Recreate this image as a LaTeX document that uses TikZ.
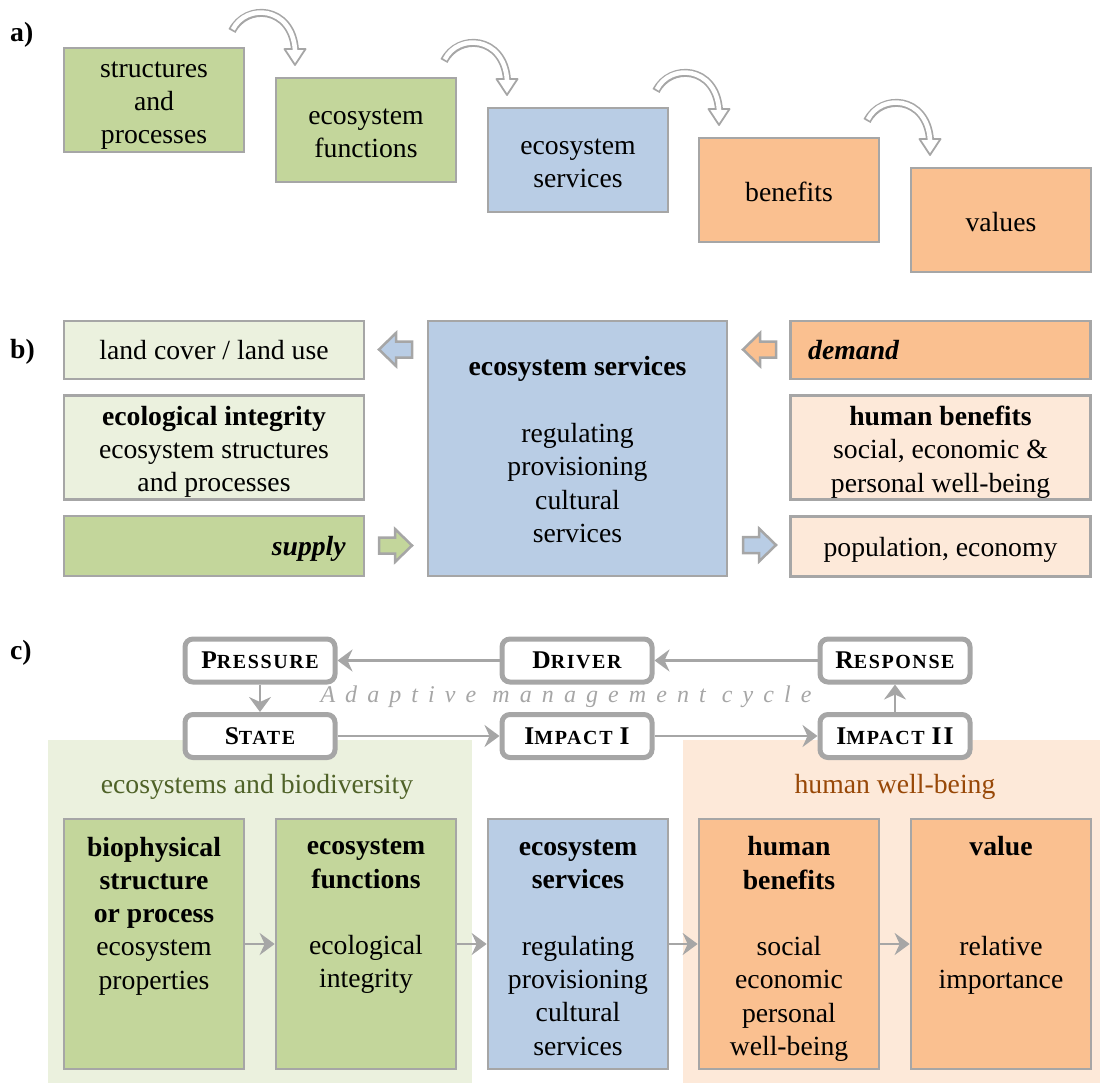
\documentclass[tikz,border=0pt]{standalone}
\usepackage{fontspec}
\setmainfont{Liberation Serif}
\newfontfamily\cyclefont[LetterSpace=42]{Liberation Serif}
\newfontfamily\stagefont[LetterSpace=8]{Liberation Serif}
\usetikzlibrary{arrows.meta}

\definecolor{grn}{HTML}{C3D69B}
\definecolor{grnlt}{HTML}{EBF1DE}
\definecolor{blu}{HTML}{B9CDE5}
\definecolor{org}{HTML}{FAC090}
\definecolor{orglt}{HTML}{FDE9D9}
\definecolor{edge}{HTML}{A6A6A6}
\definecolor{olivetext}{HTML}{4F6228}
\definecolor{browntext}{HTML}{984807}

% fake small capitals for the stage names
\newcommand\capbig[1]{{\fontsize{25.5}{28}\selectfont #1}}
\newcommand\capsmall[1]{{\fontsize{20}{28}\selectfont #1}}

% hollow curved arrow between two boxes of panel a
\newcommand\hollowcurve[2]{%
  \begin{scope}[shift={(#1,#2)}]
    \draw[edge, line width=8pt] (232,31) .. controls (246,3) and (292,6) .. (295,50);
    \filldraw[fill=white, draw=edge, line width=1.8pt, line join=round]
      (284.5,49) -- (305.5,49) -- (295,65) -- cycle;
    \draw[white, line width=4.6pt, shorten <=1.8pt]
      (232,31) .. controls (246,3) and (292,6) .. (295,50) -- (295,51.5);
  \end{scope}}

\tikzset{
  txt/.style={font=\fontsize{27.7}{33.3}\selectfont, align=center, inner sep=0pt,
    execute at begin node=\strut, execute at end node=\strut},
  box/.style={draw=edge, line width=2.7pt, inner sep=0pt},
  abox/.style={box, minimum width=180pt, minimum height=104pt},
  bbox/.style={box, minimum width=300pt},
  cbox/.style={box, minimum width=180pt, minimum height=250pt},
  stage/.style={draw=edge, line width=5pt, rounded corners=8pt, fill=white,
    minimum width=150pt, minimum height=43pt, inner sep=0pt, font=\stagefont\bfseries},
  conn/.style={draw=edge, line width=2.8pt, -{Stealth[length=15pt,width=22pt,inset=5pt]}},
  blockarrow/.style={draw=edge, line width=2.5pt, line join=miter},
  panel/.style={font=\bfseries\fontsize{27.7}{33.3}\selectfont, inner sep=0pt, anchor=west},
}

\begin{document}
\begin{tikzpicture}[x=1pt,y=-1pt]
\path[use as bounding box] (0,0) rectangle (1100,1084);

% panel labels
\node[panel] (labA) at (10,35) {a)};
\node[panel] (labB) at (10,352) {b)};
\node[panel] (labC) at (10,653) {c)};

% ---------- panel a: the cascade ----------
\node[abox, fill=grn] (sp) at (154,100) {};
\node[abox, fill=grn] (ef) at (366,130) {};
\node[abox, fill=blu] (es) at (578,160) {};
\node[abox, fill=org] (bn) at (789,190) {};
\node[abox, fill=org] (vl) at (1001,220) {};
\node[txt] (spt) at (154,107.5) {structures\\and\\processes};
\node[txt] (eft) at (366,138) {ecosystem\\functions};
\node[txt] (est) at (578,168) {ecosystem\\services};
\node[txt] (bnt) at (789,195) {benefits};
\node[txt] (vlt) at (1001,225) {values};

\hollowcurve{0}{0}
\hollowcurve{212}{30}
\hollowcurve{424}{60}
\hollowcurve{635}{90}

% ---------- panel b: supply and demand ----------
\node[bbox, fill=grnlt, minimum height=58pt] (lc) at (214,350) {};
\node[bbox, fill=grnlt, minimum height=104pt] (ei) at (214,447.5) {};
\node[bbox, fill=grn, minimum height=60pt] (su) at (214,546) {};
\node[box, fill=blu, minimum width=299pt, minimum height=255pt] (esb) at (577.5,448.5) {};
\node[bbox, fill=org, minimum height=58pt] (de) at (940.5,350) {};
\node[bbox, fill=orglt, minimum height=104pt] (hb) at (940.5,447.5) {};
\node[bbox, fill=orglt, minimum height=60pt] (pe) at (940.5,546.5) {};

\node[txt] (lct) at (214,353) {land cover / land use};
\node[txt] (eit) at (214,454)
  {\textbf{ecological integrity}\\ecosystem structures\\and processes};
\node[txt, anchor=east] (sut) at (346,549) {\textbf{\textit{supply}}};
\node[txt] (esbt) at (577.5,454.5)
  {\textbf{ecosystem services}\\[33.3pt]regulating\\provisioning\\cultural\\services};
\node[txt, anchor=west] (det) at (808,353) {\textbf{\textit{demand}}};
\node[txt] (hbt) at (940.5,454)
  {\textbf{human benefits}\\social, economic \&\\personal well-being};
\node[txt] (pet) at (940.5,549.5) {population, economy};

% block arrows
\draw[blockarrow, fill=blu] (379,349.5) -- ++(17,-16.5) -- ++(0,8.5) -- ++(16,0)
  -- ++(0,16) -- ++(-16,0) -- ++(0,8.5) -- cycle;
\draw[blockarrow, fill=org] (743,349.5) -- ++(17,-16.5) -- ++(0,8.5) -- ++(16,0)
  -- ++(0,16) -- ++(-16,0) -- ++(0,8.5) -- cycle;
\draw[blockarrow, fill=grn] (412,545.5) -- ++(-17,-16.5) -- ++(0,8.5) -- ++(-16,0)
  -- ++(0,16) -- ++(16,0) -- ++(0,8.5) -- cycle;
\draw[blockarrow, fill=blu] (776,545) -- ++(-17,-16.5) -- ++(0,8.5) -- ++(-16,0)
  -- ++(0,16) -- ++(16,0) -- ++(0,8.5) -- cycle;

% ---------- panel c: DPSIR cycle ----------
\fill[grnlt] (48,740) rectangle (472,1083);
\fill[orglt] (683,740) rectangle (1100,1083);

\node[stage] (pr) at (260,660.5) {\capbig{P}\capsmall{RESSURE}};
\node[stage] (dr) at (577,660.5) {\capbig{D}\capsmall{RIVER}};
\node[stage] (re) at (895,660.5) {\capbig{R}\capsmall{ESPONSE}};
\node[stage] (st) at (260,736) {\capbig{S}\capsmall{TATE}};
\node[stage] (i1) at (577,736) {\capbig{I}\capsmall{MPACT}\hspace{7pt}\capbig{I}};
\node[stage] (i2) at (895,736) {\capbig{I}\capsmall{MPACT}\hspace{7pt}\capbig{II}};

\draw[conn] (dr) -- (pr);
\draw[conn] (re) -- (dr);
\draw[conn] (pr) -- (st);
\draw[conn] (st) -- (i1);
\draw[conn] (i1) -- (i2);
\draw[conn] (i2) -- (re);

\node[inner sep=0pt, text=edge, font=\cyclefont\itshape\fontsize{24}{28}\selectfont] (cyc)
  at (566,697) {Adaptive management cycle};

\node[txt, text=olivetext] (ecobio) at (257,787) {ecosystems and biodiversity};
\node[txt, text=browntext] (hwb) at (895,787) {human well-being};

\node[cbox, fill=grn] (c1) at (154,944) {};
\node[cbox, fill=grn] (c2) at (366,944) {};
\node[cbox, fill=blu] (c3) at (578,944) {};
\node[cbox, fill=org] (c4) at (789,944) {};
\node[cbox, fill=org] (c5) at (1001,944) {};

\node[txt] (c1t) at (154,918)
  {\textbf{biophysical}\\\textbf{structure}\\\textbf{or process}\\ecosystem\\properties};
\node[txt] (c2t) at (366,918.5)
  {\textbf{ecosystem}\\\textbf{functions}\\[33.3pt]ecological\\integrity};
\node[txt] (c3t) at (578,952.5)
  {\textbf{ecosystem}\\\textbf{services}\\[33.3pt]regulating\\provisioning\\cultural\\services};
\node[txt] (c4t) at (789,951)
  {\textbf{human}\\\textbf{benefits}\\[33.3pt]social\\economic\\personal\\well-being};
\node[txt] (c5t) at (1001,917.5)
  {\textbf{value}\\[66.6pt]relative\\importance};

\draw[conn] (c1) -- (c2);
\draw[conn] (c2) -- (c3);
\draw[conn] (c3) -- (c4);
\draw[conn] (c4) -- (c5);
\end{tikzpicture}
\end{document}
